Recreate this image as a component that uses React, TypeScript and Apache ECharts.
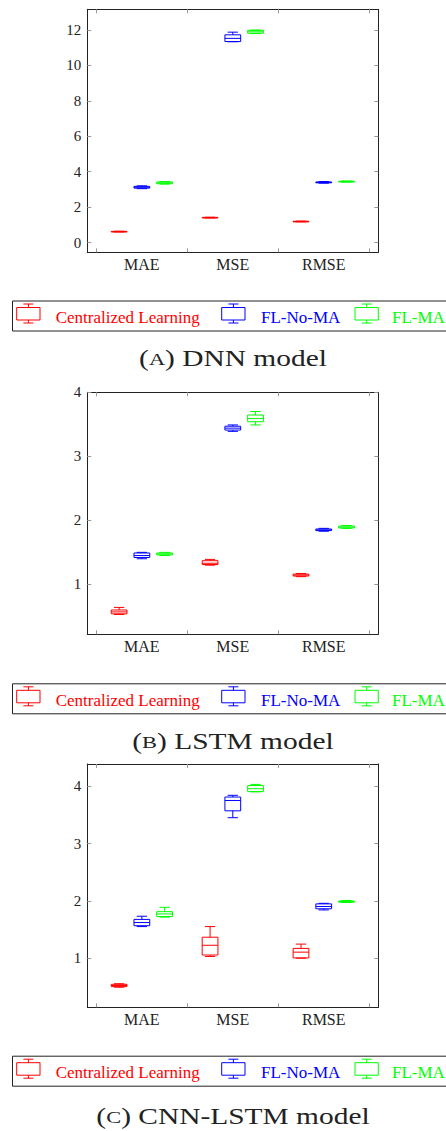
import React, { useEffect, useRef } from "react";
import * as echarts from "echarts";

// Metric categories and series
const categories = ["MAE", "MSE", "RMSE"];
const seriesNames = ["Centralized Learning", "FL-No-MA", "FL-MA"];
const seriesColors = ["#ff0000", "#0000ff", "#00ff00"];
const captions = [
  ["A", "DNN model"],
  ["B", "LSTM model"],
  ["C", "CNN-LSTM model"],
];

// Y tick values per panel
const yTicksDnn = [0, 2, 4, 6, 8, 10, 12];
const yTicksLstm = [1, 2, 3, 4];
const yTicksCnn = [1, 2, 3, 4];

// Box statistics per category: [min, q1, median, q3, max]
const dnnCentralized = [
  [0.6, 0.61, 0.62, 0.63, 0.64],
  [1.39, 1.4, 1.41, 1.42, 1.43],
  [1.17, 1.18, 1.19, 1.2, 1.21],
];
const dnnFlNoMa = [
  [3.04, 3.07, 3.12, 3.17, 3.2],
  [11.33, 11.34, 11.52, 11.72, 11.87],
  [3.35, 3.37, 3.39, 3.42, 3.44],
];
const dnnFlMa = [
  [3.3, 3.32, 3.37, 3.42, 3.44],
  [11.79, 11.81, 11.89, 11.97, 11.99],
  [3.41, 3.42, 3.44, 3.46, 3.47],
];

const lstmCentralized = [
  [0.53, 0.54, 0.57, 0.6, 0.64],
  [1.3, 1.31, 1.33, 1.37, 1.39],
  [1.12, 1.13, 1.145, 1.16, 1.17],
];
const lstmFlNoMa = [
  [1.4, 1.42, 1.45, 1.49, 1.5],
  [3.39, 3.41, 3.44, 3.47, 3.49],
  [1.83, 1.84, 1.85, 1.865, 1.875],
];
const lstmFlMa = [
  [1.45, 1.46, 1.475, 1.49, 1.5],
  [3.49, 3.54, 3.59, 3.645, 3.7],
  [1.875, 1.88, 1.895, 1.91, 1.92],
];

const cnnCentralized = [
  [0.5, 0.51, 0.53, 0.55, 0.56],
  [1.035, 1.06, 1.23, 1.37, 1.555],
  [1.005, 1.01, 1.11, 1.175, 1.25],
];
const cnnFlNoMa = [
  [1.555, 1.57, 1.625, 1.68, 1.735],
  [3.45, 3.57, 3.75, 3.81, 3.84],
  [1.845, 1.865, 1.905, 1.95, 1.96],
];
const cnnFlMa = [
  [1.72, 1.73, 1.775, 1.815, 1.89],
  [3.9, 3.905, 3.955, 4.01, 4.03],
  [1.975, 1.98, 1.99, 2.0, 2.01],
];

const FONT = "Liberation Serif";
const TEXT = "#222";

const panels = [
  { stats: [dnnCentralized, dnnFlNoMa, dnnFlMa], yTicks: yTicksDnn, yMin: -0.55, yMax: 13.16, top: 9.3, height: 243, legendTop: 300.5, captionY: 358.5 },
  { stats: [lstmCentralized, lstmFlNoMa, lstmFlMa], yTicks: yTicksLstm, yMin: 0.22, yMax: 4.0, top: 392.3, height: 242, legendTop: 683.3, captionY: 741.5 },
  { stats: [cnnCentralized, cnnFlNoMa, cnnFlMa], yTicks: yTicksCnn, yMin: 0.15, yMax: 4.385, top: 764, height: 243.3, legendTop: 1055.7, captionY: 1116.5 },
];

// x layout: each metric group spans 3 units, boxes sit at offsets within the group
const groupCenters = [2, 5, 8];
const groupEdges = [0.5, 3.5, 6.5, 9.5];
const boxOffsets = [-0.75, 0, 0.75];
const BOX_W = 0.52;
const CAP_W = 0.34;

function boxRenderer(color: string) {
  return (params: any, api: any) => {
    const x = api.value(0);
    const yMin = api.coord([x, api.value(1)])[1];
    const yQ1 = api.coord([x, api.value(2)])[1];
    const yMed = api.coord([x, api.value(3)])[1];
    const yQ3 = api.coord([x, api.value(4)])[1];
    const yMax = api.coord([x, api.value(5)])[1];
    const cx = api.coord([x, api.value(3)])[0];
    const half = api.size([BOX_W, 0])[0] / 2;
    const capHalf = api.size([CAP_W, 0])[0] / 2;
    const st = { stroke: color, lineWidth: 1, fill: "none" };
    return {
      type: "group",
      children: [
        { type: "rect", shape: { x: cx - half, y: yQ3, width: half * 2, height: Math.max(yQ1 - yQ3, 0.6) }, style: st },
        { type: "line", shape: { x1: cx - half, y1: yMed, x2: cx + half, y2: yMed }, style: st },
        { type: "line", shape: { x1: cx, y1: yQ3, x2: cx, y2: yMax }, style: st },
        { type: "line", shape: { x1: cx - capHalf, y1: yMax, x2: cx + capHalf, y2: yMax }, style: st },
        { type: "line", shape: { x1: cx, y1: yQ1, x2: cx, y2: yMin }, style: st },
        { type: "line", shape: { x1: cx - capHalf, y1: yMin, x2: cx + capHalf, y2: yMin }, style: st },
      ],
    };
  };
}

function legendBlock(top: number) {
  const iconX = [16.7, 221.7, 355];
  const textX = [55.7, 261, 392];
  const children: any[] = [
    { type: "rect", shape: { x: 12.5, y: top + 0.5, width: 480, height: 30 }, style: { fill: "none", stroke: TEXT, lineWidth: 1 } },
  ];
  seriesNames.forEach((name, i) => {
    const c = seriesColors[i];
    const st = { stroke: c, lineWidth: 1, fill: "none" };
    const x0 = iconX[i];
    const cx = x0 + 11.7;
    children.push(
      { type: "rect", shape: { x: x0, y: top + 7, width: 23.3, height: 12.5 }, style: st },
      { type: "line", shape: { x1: cx, y1: top + 7, x2: cx, y2: top + 3.5 }, style: st },
      { type: "line", shape: { x1: cx - 5, y1: top + 3.5, x2: cx + 5, y2: top + 3.5 }, style: st },
      { type: "line", shape: { x1: cx, y1: top + 19.5, x2: cx, y2: top + 22.5 }, style: st },
      { type: "line", shape: { x1: cx - 5, y1: top + 22.5, x2: cx + 5, y2: top + 22.5 }, style: st },
      {
        type: "text",
        x: textX[i],
        y: top + 17,
        style: { text: name, fill: c, fontFamily: FONT, fontSize: 17, align: "left", verticalAlign: "middle" },
      }
    );
  });
  return { type: "group", children };
}

function captionBlock(letter: string, rest: string, y: number) {
  return {
    type: "text",
    x: 233,
    y,
    scaleX: 1.28,
    originX: 0,
    style: {
      text: "(" + "{sc|" + letter + "}" + ") " + rest,
      fill: TEXT,
      fontFamily: FONT,
      fontSize: 23,
      lineHeight: 20,
      align: "center",
      verticalAlign: "middle",
      rich: { sc: { fontFamily: FONT, fontSize: 17.5, lineHeight: 20, fill: TEXT } },
    },
  };
}

export default function App() {
  const ref = useRef<HTMLDivElement>(null);

  useEffect(() => {
    if (!ref.current) return;
    const chart = echarts.init(ref.current, null, { renderer: "svg" });

    const grid: any[] = [];
    const xAxis: any[] = [];
    const yAxis: any[] = [];
    const series: any[] = [];
    const graphic: any[] = [];

    const line = { show: true, onZero: false, lineStyle: { color: TEXT, width: 1 } };
    const tickStyle = { color: "#999", width: 1 };

    panels.forEach((p, g) => {
      grid.push({ left: 87.3, width: 291, top: p.top, height: p.height, show: false });

      const xBase = { type: "value", gridIndex: g, min: 0.2, max: 9.8, axisLine: line, splitLine: { show: false } };
      xAxis.push({
        ...xBase,
        position: "bottom",
        axisTick: { show: true, inside: true, length: 4, customValues: groupEdges, lineStyle: tickStyle },
        axisLabel: {
          show: true,
          customValues: groupCenters,
          formatter: (v: number) => categories[Math.round((v - 2) / 3)],
          fontFamily: FONT,
          fontSize: 16,
          color: TEXT,
          margin: 4,
        },
      });
      xAxis.push({
        ...xBase,
        position: "top",
        axisTick: { show: true, inside: true, length: 4, customValues: groupEdges, lineStyle: tickStyle },
        axisLabel: { show: false },
      });

      const yBase = { type: "value", gridIndex: g, min: p.yMin, max: p.yMax, axisLine: line, splitLine: { show: false } };
      yAxis.push({
        ...yBase,
        position: "left",
        axisTick: { show: true, inside: true, length: 4, customValues: p.yTicks, lineStyle: tickStyle },
        axisLabel: { show: true, customValues: p.yTicks, fontFamily: FONT, fontSize: 15, color: TEXT, margin: 6 },
      });
      yAxis.push({
        ...yBase,
        position: "right",
        axisTick: { show: true, inside: true, length: 4, customValues: p.yTicks, lineStyle: tickStyle },
        axisLabel: { show: false },
      });

      p.stats.forEach((stats, s) => {
        series.push({
          type: "custom",
          name: seriesNames[s],
          xAxisIndex: 2 * g,
          yAxisIndex: 2 * g,
          renderItem: boxRenderer(seriesColors[s]),
          encode: { x: 0, y: [1, 2, 3, 4, 5] },
          data: stats.map((v, i) => [groupCenters[i] + boxOffsets[s], ...v]),
          itemStyle: { color: seriesColors[s] },
        });
      });

      graphic.push(legendBlock(p.legendTop));
      graphic.push(captionBlock(captions[g][0], captions[g][1], p.captionY));
    });

    chart.setOption({
      animation: false,
      backgroundColor: "#ffffff",
      grid,
      xAxis,
      yAxis,
      series,
      graphic,
    });

    return () => chart.dispose();
  }, []);

  return <div ref={ref} style={{ position: "absolute", left: 0, top: 0, width: 446, height: 1131 }} />;
}
